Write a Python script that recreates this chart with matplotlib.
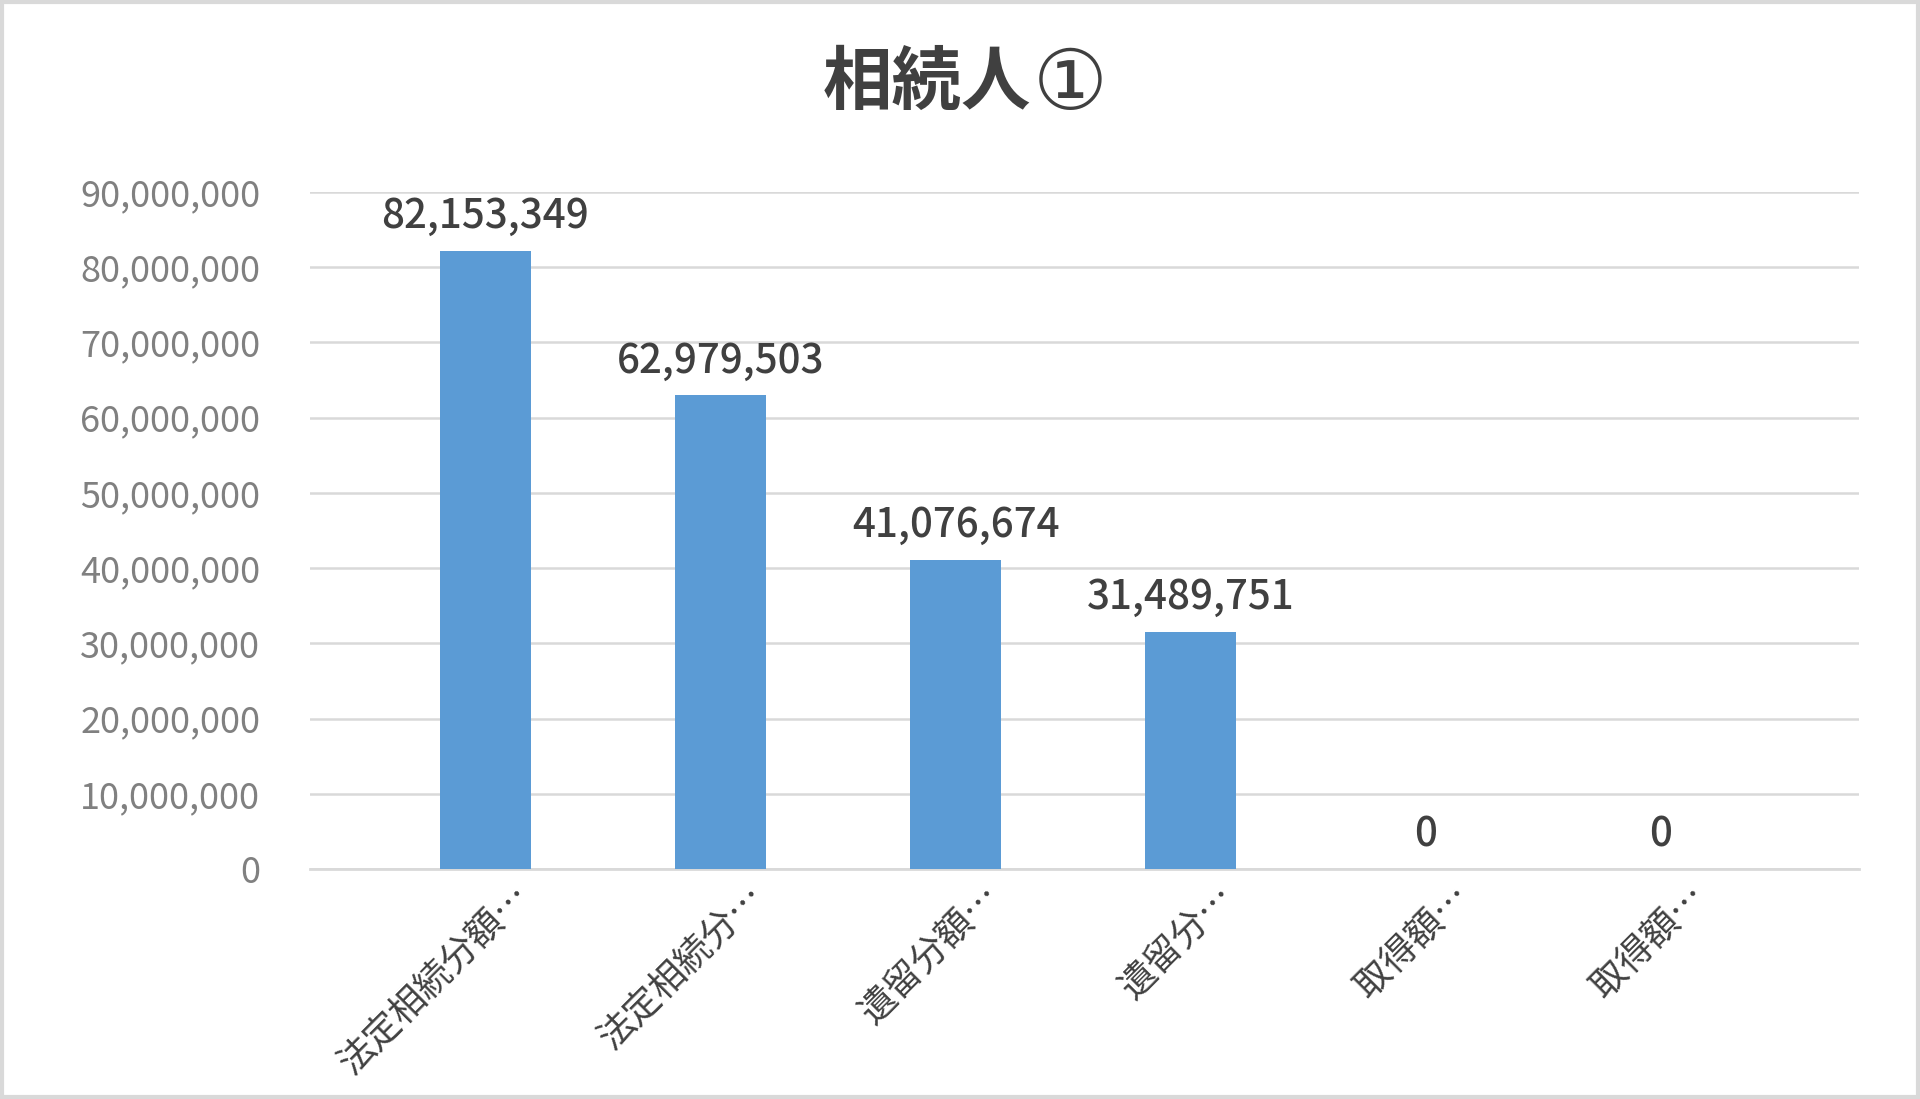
import numpy as np
import matplotlib.pyplot as plt
from matplotlib.ticker import FuncFormatter
from matplotlib.transforms import ScaledTranslation

plt.rcParams['font.family'] = ['Noto Sans CJK JP', 'DejaVu Sans']

# data
categories = ['法定相続分額…', '法定相続分…', '遺留分額…', '遺留分…', '取得額…', '取得額…']
values = [82153349, 62979503, 41076674, 31489751, 0, 0]

bar_color = '#5b9bd5'
grid_color = '#d9d9d9'
text_dark = '#404040'
text_gray = '#808080'

fig = plt.figure(figsize=(19.2, 10.99), dpi=100)
ax = fig.add_axes([0.1615, 0.2093, 0.8065, 0.616])

x = np.arange(len(categories))
ax.bar(x, values, width=0.385, color=bar_color, zorder=3)

# data labels
for xi, v in zip(x, values):
    ax.annotate(f'{v:,}', (xi, v), xytext=(0, 10), textcoords='offset points',
                ha='center', va='bottom', fontsize=29, fontweight='medium',
                color=text_dark, zorder=4)

ax.set_xlim(-0.745, 5.84)
ax.set_ylim(0, 90000000)
ax.set_yticks(np.arange(0, 90000001, 10000000))
ax.yaxis.set_major_formatter(FuncFormatter(lambda v, p: f'{int(v):,}'))
ax.tick_params(axis='y', length=0, labelsize=26, labelcolor=text_gray, pad=36)
ax.grid(axis='y', color=grid_color, linewidth=1.8, zorder=0)

ax.set_xticks(x)
ax.set_xticklabels(categories, rotation=45, ha='right', va='center',
                   rotation_mode='anchor', fontsize=26, color=text_dark)
ax.tick_params(axis='x', length=0, pad=8)
offset = ScaledTranslation(0.38, -0.1, fig.dpi_scale_trans)
for lbl in ax.get_xticklabels():
    lbl.set_transform(lbl.get_transform() + offset)

for side in ['top', 'right', 'left']:
    ax.spines[side].set_visible(False)
ax.spines['bottom'].set_color(grid_color)
ax.spines['bottom'].set_linewidth(2)

# title: bold text plus an outlined circled digit
fig.text(0.537, 0.924, '相続人', ha='right', va='center', fontsize=50,
         fontweight='bold', color=text_dark)
fig.text(0.538, 0.922, '①', ha='left', va='center', fontsize=60,
         fontweight='normal', color=text_dark, family=['DejaVu Sans'])

# outer frame
fig.patches.append(plt.Rectangle((0.001, 0.002), 0.998, 0.996, transform=fig.transFigure,
                                 fill=False, edgecolor=grid_color, linewidth=3))

fig.savefig('out.png', dpi=100)
